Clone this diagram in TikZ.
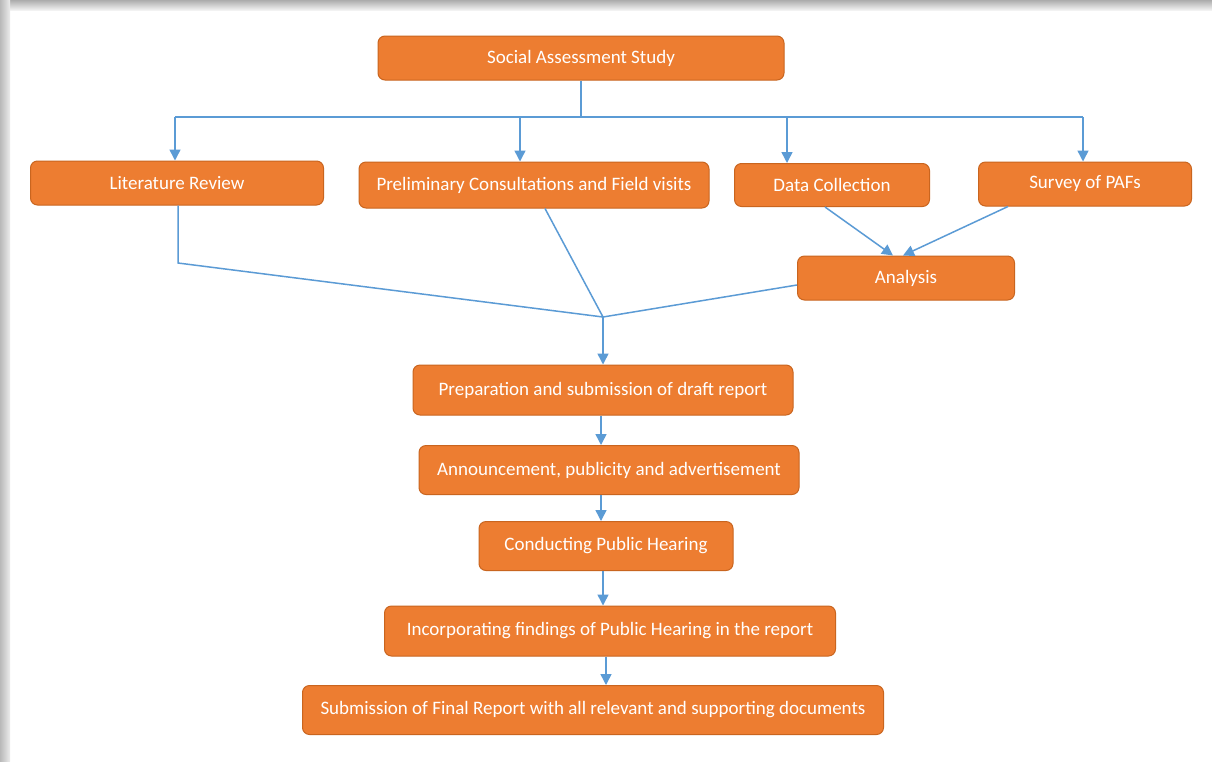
\documentclass[tikz,border=0pt]{standalone}
\usepackage{fontspec}
\setmainfont{Carlito}
\usetikzlibrary{arrows.meta}
\definecolor{boxfill}{HTML}{ED7D31}
\definecolor{boxline}{HTML}{C9651F}
\definecolor{linkblue}{HTML}{5B9BD5}
\begin{document}
\begin{tikzpicture}[x=1pt,y=-1pt]
% page and shadow frame
\useasboundingbox (0,0) rectangle (1212,761);
\fill[white] (0,0) rectangle (1212,761);
\shade[top color=gray!65,bottom color=gray!10] (0,0) rectangle (1212,10);
\shade[left color=gray!55,right color=gray!15] (0,0) rectangle (10,761);
\begin{scope}[every node/.style={draw=boxline,fill=boxfill,line width=1pt,
              rounded corners=7pt,text=white,inner sep=0pt,
              font=\fontsize{19}{22}\selectfont}]
    \node[minimum width=406,minimum height=44] (sas) at (581,58) {Social Assessment Study};
    \node[minimum width=293,minimum height=44] (lit) at (177,183) {Literature Review};
    \node[minimum width=350,minimum height=46] (pc)  at (534,185) {Preliminary Consultations and Field visits};
    \node[minimum width=195,minimum height=43] (dc)  at (832,185) {Data Collection};
    \node[minimum width=213,minimum height=44] (sur) at (1085,184) {Survey of PAFs};
    \node[minimum width=217,minimum height=44] (ana) at (906,278) {Analysis};
    \node[minimum width=380,minimum height=50] (prep) at (603,390) {Preparation and submission of draft report};
    \node[minimum width=380,minimum height=49] (ann)  at (609,470) {Announcement, publicity and advertisement};
    \node[minimum width=254,minimum height=49] (cph)  at (606,546) {Conducting Public Hearing};
    \node[minimum width=451,minimum height=50] (inc)  at (610,631) {Incorporating findings of Public Hearing in the report};
    \node[minimum width=581,minimum height=49] (sub)  at (593,710) {Submission of Final Report with all relevant and supporting documents};
\end{scope}
\coordinate (bus) at (581,117);
\coordinate (b1) at (175,117);
\coordinate (b2) at (520,117);
\coordinate (b3) at (787,117);
\coordinate (b4) at (1083,117);
\coordinate (lk) at (178,263);
\coordinate (j) at (603,317);
\begin{scope}[>={Triangle[length=11pt,width=11pt]},
              every path/.style={draw=linkblue,line width=1.5pt}]
    % from the study to the four tasks
    \path (sas) -- (bus);
    \path (b1) -- (b4);
    \path [->] (b1) -- (b1 |- lit.north);
    \path [->] (b2) -- (b2 |- pc.north);
    \path [->] (b3) -- (b3 |- dc.north);
    \path [->] (b4) -- (b4 |- sur.north);
    % into the analysis
    \path [->] ([xshift=-7pt]dc.south) -- ([xshift=-13pt]ana.north);
    \path [->] ([xshift=-77pt]sur.south) -- ([xshift=-3pt]ana.north);
    % join
    \path (lit.south -| lk) -- (lk) -- (j);
    \path ([xshift=11pt]pc.south) -- (j);
    \path ([yshift=-7pt]ana.west) -- (j);
    \path [->] (j) -- (j |- prep.north);
    % report chain
    \path [->] (prep.south -| 601,0) -- (601,0 |- ann.north);
    \path [->] (ann.south -| 601,0) -- (601,0 |- cph.north);
    \path [->] (cph.south -| 603,0) -- (603,0 |- inc.north);
    \path [->] (inc.south -| 606,0) -- (606,0 |- sub.north);
\end{scope}
\end{tikzpicture}
\end{document}
